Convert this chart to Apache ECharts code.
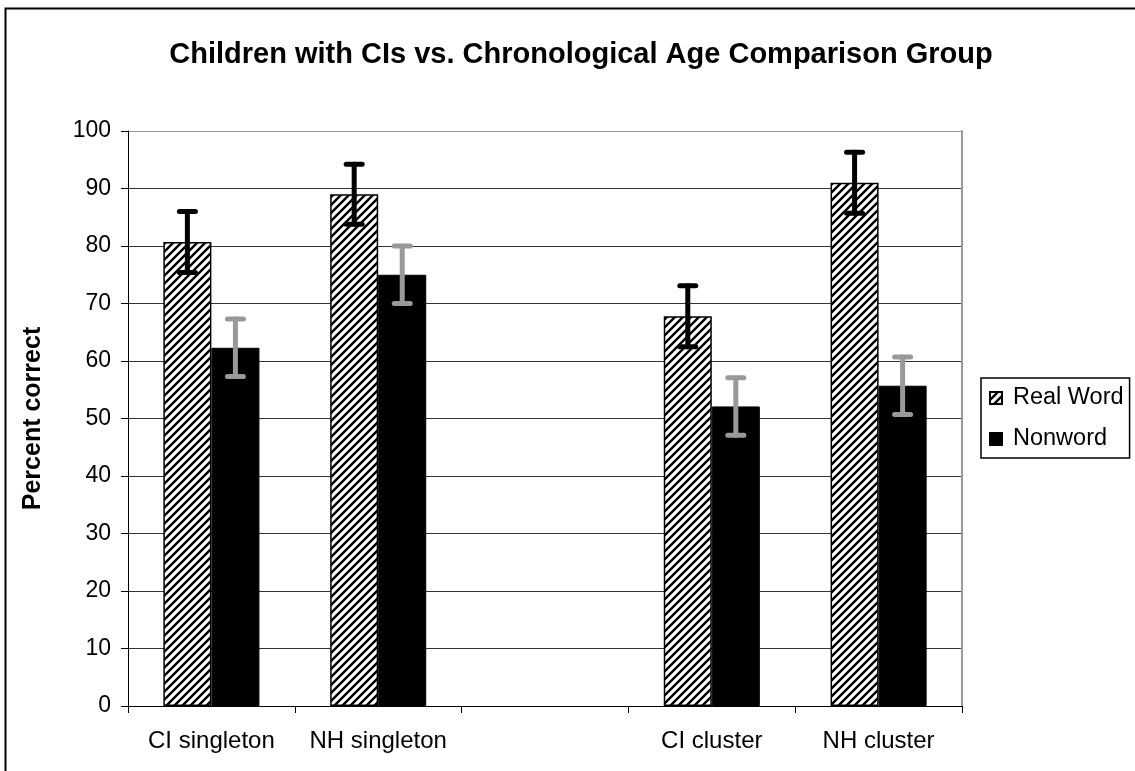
<!DOCTYPE html>
<html>
<head>
<meta charset="utf-8">
<script src="https://cdn.jsdelivr.net/npm/echarts@6/dist/echarts.min.js"></script>
<style>
  html, body { margin: 0; padding: 0; background: #fff; }
  #main { width: 1135px; height: 771px; }
</style>
</head>
<body>
<div id="main"></div>
<script>
  // data
  var categories = ['CI singleton', 'NH singleton', '', 'CI cluster', 'NH cluster'];
  var realWord = [80.7, 89.0, null, 67.8, 91.0];
  var nonword = [62.3, 75.0, null, 52.1, 55.7];
  var realWordErr = [5.3, 5.2, null, 5.3, 5.3];
  var nonwordErr = [5.0, 5.0, null, 5.0, 5.0];
  var yTicks = [0, 10, 20, 30, 40, 50, 60, 70, 80, 90, 100];

  var font = 'Liberation Sans, Arial, sans-serif';
  var barShare = 0.288; // bar width as part of a category

  // diagonal hatch for the Real Word bars
  function makeHatch() {
    var c = document.createElement('canvas');
    c.width = 8;
    c.height = 8;
    var ctx = c.getContext('2d');
    ctx.fillStyle = '#fff';
    ctx.fillRect(0, 0, 8, 8);
    ctx.strokeStyle = '#000';
    ctx.lineWidth = 2.4;
    ctx.beginPath();
    ctx.moveTo(-1, 9); ctx.lineTo(9, -1);
    ctx.moveTo(-3, 3); ctx.lineTo(3, -3);
    ctx.moveTo(5, 11); ctx.lineTo(11, 5);
    ctx.stroke();
    return c;
  }

  function errData(vals, errs) {
    var out = [];
    for (var i = 0; i < vals.length; i++) {
      if (vals[i] != null) out.push([i, vals[i], errs[i]]);
    }
    return out;
  }

  function errRender(side, color) {
    return function (params, api) {
      var i = api.value(0), v = api.value(1), e = api.value(2);
      var band = api.size([1, 0])[0];
      var off = side * band * barShare / 2;
      var hi = api.coord([i, v + e]);
      var lo = api.coord([i, v - e]);
      var x = hi[0] + off;
      var cap = 8;
      var style = { stroke: color, lineWidth: 5, lineCap: 'round' };
      return {
        type: 'group',
        children: [
          { type: 'line', shape: { x1: x, y1: hi[1], x2: x, y2: lo[1] }, style: style },
          { type: 'line', shape: { x1: x - cap, y1: hi[1], x2: x + cap, y2: hi[1] }, style: style },
          { type: 'line', shape: { x1: x - cap, y1: lo[1], x2: x + cap, y2: lo[1] }, style: style }
        ]
      };
    };
  }

  var splitColors = yTicks.map(function (t) { return t === 100 ? '#999' : '#333'; });

  var myChart = echarts.init(document.getElementById('main'));
  var option = {
    backgroundColor: '#fff',
    animation: false,
    title: {
      text: 'Children with CIs vs. Chronological Age Comparison Group',
      left: 576,
      textAlign: 'center',
      top: 35,
      textStyle: { fontFamily: font, fontSize: 29, fontWeight: 'bold', color: '#000' }
    },
    legend: {
      data: [
        { name: 'Real Word', icon: 'rect' },
        { name: 'Nonword', icon: 'rect' }
      ],
      orient: 'vertical',
      left: 981,
      top: 378,
      padding: [8, 6, 7, 8],
      itemGap: 17,
      itemWidth: 12,
      itemHeight: 12,
      borderColor: '#000',
      borderWidth: 1.5,
      textStyle: { fontFamily: font, fontSize: 23.5, color: '#000', padding: [0, 0, 0, 6] }
    },
    grid: { left: 128, right: 173, top: 131, bottom: 65 },
    xAxis: {
      type: 'category',
      data: categories,
      axisLine: { lineStyle: { color: '#000', width: 1 } },
      axisTick: { show: true, interval: 0, length: 7, lineStyle: { color: '#000' } },
      axisLabel: { interval: 0, margin: 23, fontFamily: font, fontSize: 24, color: '#000' }
    },
    yAxis: [
      {
        type: 'value',
        min: 0,
        max: 100,
        interval: 10,
        name: 'Percent correct',
        nameLocation: 'middle',
        nameRotate: 90,
        nameGap: 82,
        nameTextStyle: { fontFamily: font, fontSize: 25, fontWeight: 'bold', color: '#000' },
        axisLine: { show: true, lineStyle: { color: '#000', width: 1 } },
        axisTick: { show: true, length: 7, lineStyle: { color: '#000' } },
        axisLabel: { margin: 17, fontFamily: font, fontSize: 23, color: '#000' },
        splitLine: { show: true, lineStyle: { color: splitColors, width: 1 } }
      },
      {
        // right border of the plot area
        type: 'value',
        position: 'right',
        min: 0,
        max: 100,
        interval: 10,
        axisLine: { show: true, lineStyle: { color: '#999', width: 2 } },
        axisTick: { show: false },
        axisLabel: { show: false },
        splitLine: { show: false }
      }
    ],
    graphic: [
      {
        type: 'rect',
        left: 3,
        top: 6,
        shape: { width: 1160, height: 800 },
        style: { fill: null, stroke: '#000', lineWidth: 2 },
        silent: true
      }
    ],
    series: [
      {
        name: 'Real Word',
        type: 'bar',
        data: realWord,
        barWidth: (barShare * 100) + '%',
        barGap: '0%',
        itemStyle: { color: { image: makeHatch(), repeat: 'repeat' }, borderColor: '#000', borderWidth: 1.5 }
      },
      {
        name: 'Nonword',
        type: 'bar',
        data: nonword,
        barWidth: (barShare * 100) + '%',
        barGap: '0%',
        itemStyle: { color: '#000', borderColor: '#000', borderWidth: 1 }
      },
      {
        name: 'Real Word error',
        type: 'custom',
        renderItem: errRender(-1, '#000'),
        data: errData(realWord, realWordErr),
        z: 5
      },
      {
        name: 'Nonword error',
        type: 'custom',
        renderItem: errRender(1, '#999'),
        data: errData(nonword, nonwordErr),
        z: 5
      }
    ]
  };
  myChart.setOption(option);
</script>
</body>
</html>
